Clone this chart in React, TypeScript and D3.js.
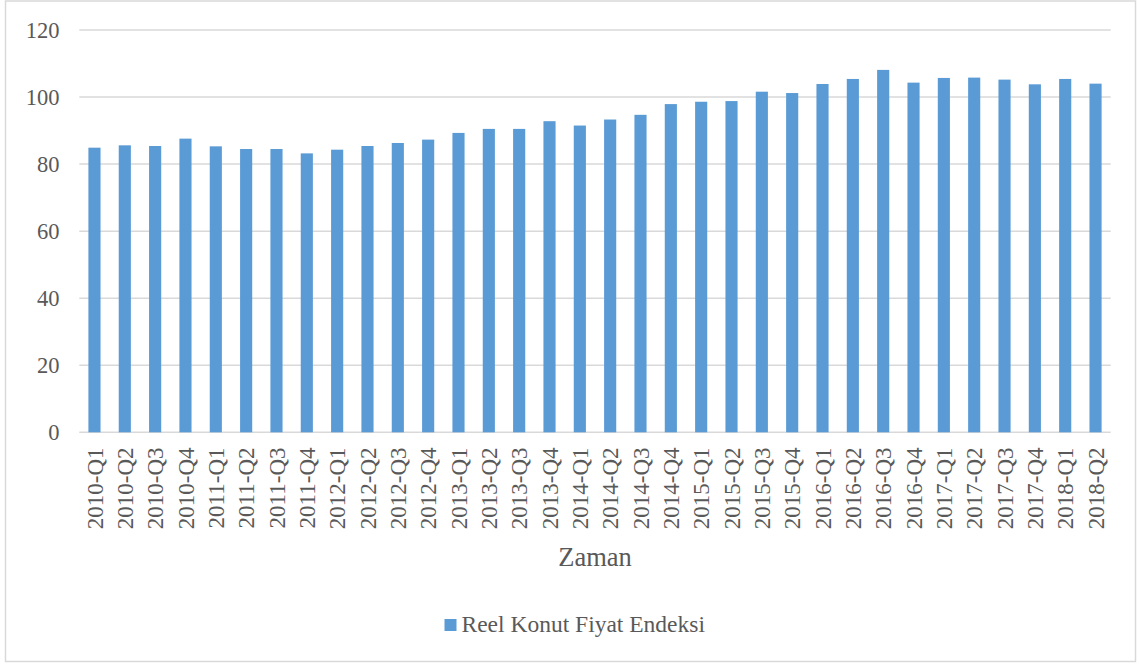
import React from "react";
import * as d3 from "d3";

const categories = [
  "2010-Q1","2010-Q2","2010-Q3","2010-Q4",
  "2011-Q1","2011-Q2","2011-Q3","2011-Q4",
  "2012-Q1","2012-Q2","2012-Q3","2012-Q4",
  "2013-Q1","2013-Q2","2013-Q3","2013-Q4",
  "2014-Q1","2014-Q2","2014-Q3","2014-Q4",
  "2015-Q1","2015-Q2","2015-Q3","2015-Q4",
  "2016-Q1","2016-Q2","2016-Q3","2016-Q4",
  "2017-Q1","2017-Q2","2017-Q3","2017-Q4",
  "2018-Q1","2018-Q2",
];
const values = [
  84.9, 85.6, 85.4, 87.6,
  85.3, 84.5, 84.5, 83.2,
  84.3, 85.4, 86.3, 87.3,
  89.3, 90.5, 90.5, 92.8,
  91.5, 93.3, 94.7, 97.9,
  98.6, 98.8, 101.6, 101.2,
  103.9, 105.4, 108.1, 104.3,
  105.7, 105.8, 105.2, 103.8,
  105.4, 104.0,
];
const yTicks = [0, 20, 40, 60, 80, 100, 120];
const seriesName = "Reel Konut Fiyat Endeksi";
const xTitle = "Zaman";

const W = 1140, H = 666;
const left = 79.3, right = 1110.7, top = 30, bottom = 432.3;
const font = "Liberation Serif, DejaVu Serif, serif";
const textColor = "#595959";
const barColor = "#5b9bd5";
const gridColor = "#d9d9d9";

export default function App() {
  const x = d3.scaleBand<string>().domain(categories).range([left, right]).paddingInner(0.6).paddingOuter(0.3);
  const y = d3.scaleLinear().domain([0, 120]).range([bottom, top]);
  return (
    <svg width={W} height={H} style={{ position: "absolute", left: 0, top: 0, background: "#fff", fontFamily: font }}>
      <rect x={5.5} y={1} width={1130} height={660.5} fill="#fff" stroke={gridColor} strokeWidth={1.5} />
      {yTicks.map((t) => (
        <g key={t}>
          <line x1={left} x2={right} y1={y(t)} y2={y(t)} stroke={gridColor} strokeWidth={1.5} />
          <text x={59.5} y={y(t)} dy="0.35em" textAnchor="end" style={{ fontFamily: font }} fontSize={22.5} fill={textColor}>{t}</text>
        </g>
      ))}
      {categories.map((c, i) => (
        <rect key={c} x={x(c)} y={y(values[i])} width={x.bandwidth()} height={y(0) - y(values[i])} fill={barColor} />
      ))}
      {categories.map((c) => {
        const cx = (x(c) as number) + x.bandwidth() / 2;
        return (
          <text key={c} transform={`translate(${cx},${447.5}) rotate(-90)`} dy="0.35em" textAnchor="end" style={{ fontFamily: font }} fontSize={23} fill={textColor}>{c}</text>
        );
      })}
      <text x={(left + right) / 2} y={565.5} textAnchor="middle" style={{ fontFamily: font }} fontSize={26.5} fill={textColor}>{xTitle}</text>
      <rect x={444.5} y={619} width={12} height={12} fill={barColor} />
      <text x={461.5} y={632} style={{ fontFamily: font }} fontSize={23.5} fill={textColor}>{seriesName}</text>
    </svg>
  );
}
